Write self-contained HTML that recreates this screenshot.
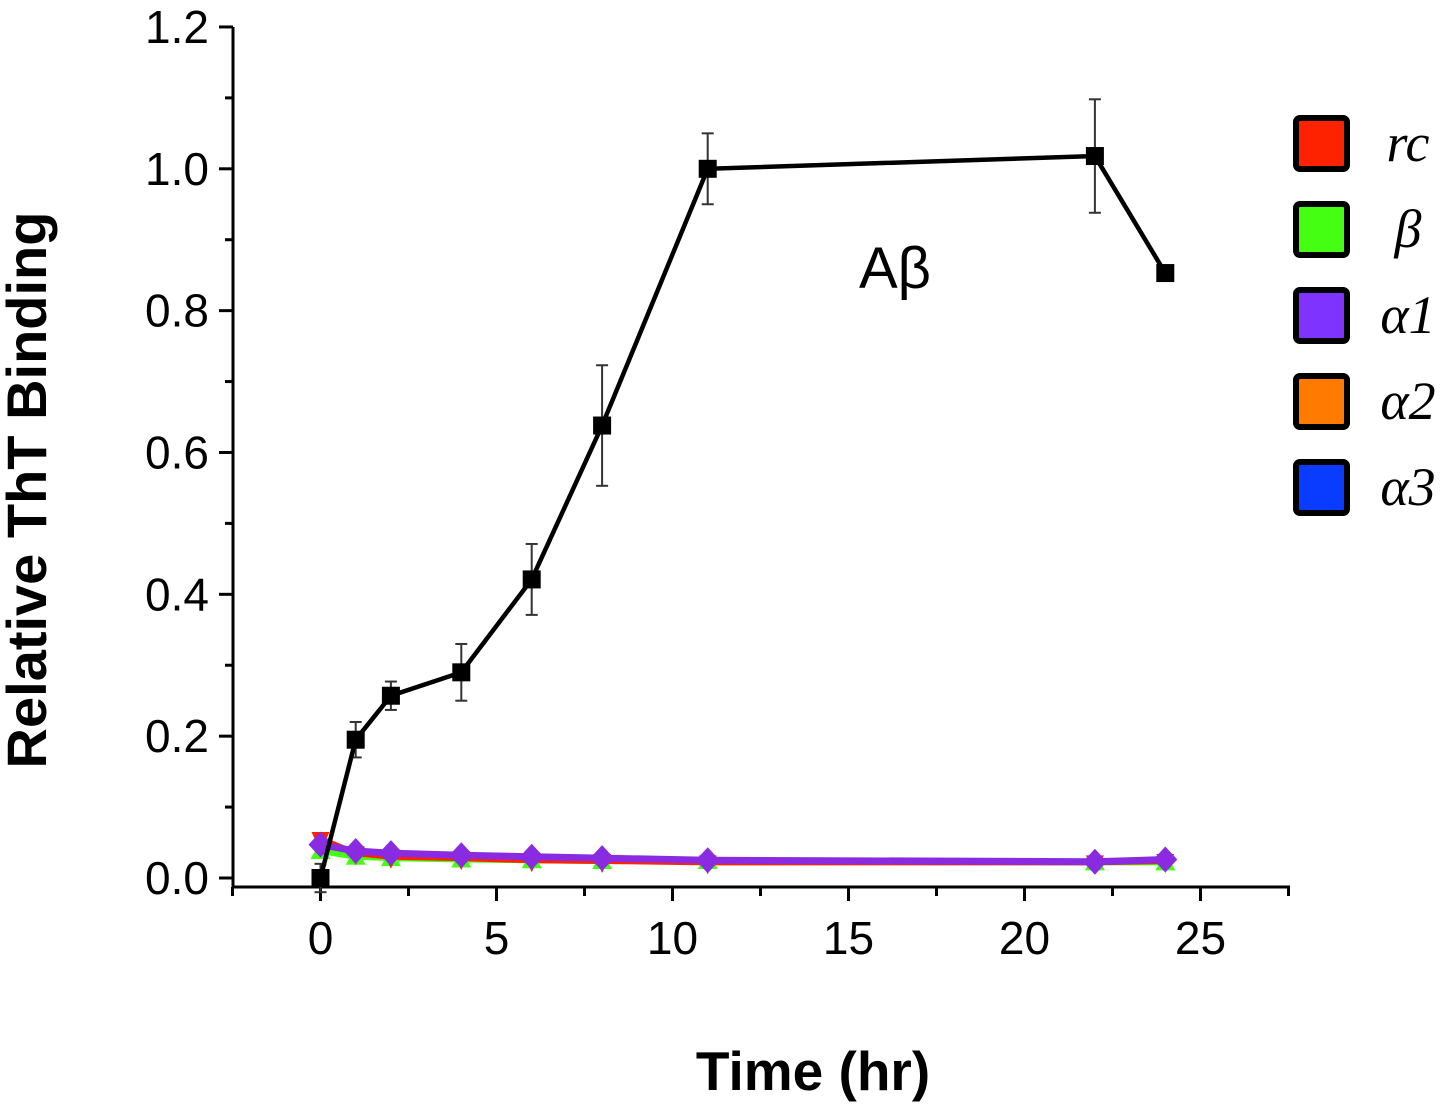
<!DOCTYPE html>
<html><head><meta charset="utf-8"><style>
html,body{margin:0;padding:0;background:#fff;}
svg{display:block;}
</style></head><body>
<svg id="chart" width="1445" height="1107" viewBox="0 0 1445 1107" xmlns="http://www.w3.org/2000/svg" font-family="Liberation Sans, sans-serif">
<g id="axes"></g>
<g id="series"></g>
<text transform="translate(46,490) rotate(-90)" text-anchor="middle" font-size="56" font-weight="bold">Relative ThT Binding</text>
<text x="813" y="1090" text-anchor="middle" font-size="55" font-weight="bold">Time (hr)</text>
<text x="895" y="288" text-anchor="middle" font-size="58">Aβ</text>
<g id="legend"></g>
</svg>
<script>
const abTimes=[0,1,2,4,6,8,11,22,24];
const abValues=[0,0.195,0.257,0.29,0.421,0.638,1.0,1.018,0.853];
const abErrors=[0.02,0.025,0.02,0.04,0.05,0.085,0.05,0.08,0.01];
const ctrlTimes=[0,1,2,4,6,8,11,22,24];
const rcValues=[0.055,0.035,0.03,0.028,0.025,0.024,0.022,0.022,0.024];
const betaValues=[0.038,0.03,0.028,0.026,0.025,0.024,0.024,0.022,0.022];
const a1Values=[0.047,0.038,0.035,0.032,0.03,0.028,0.025,0.023,0.026];
const xTicks=[0,5,10,15,20,25];
const yTicks=[0.0,0.2,0.4,0.6,0.8,1.0,1.2];
const legendLabels=["rc","β","α1","α2","α3"];
const legendColors=["#ff2200","#44ff11","#7f33ff","#ff7a00","#0a3cff"];

const NS="http://www.w3.org/2000/svg";
const X=v=>320.5+v*35.2;
const Y=v=>878-v*709.2;
function mk(tag,attrs,parent){const e=document.createElementNS(NS,tag);for(const k in attrs)e.setAttribute(k,attrs[k]);parent.appendChild(e);return e;}
const axes=document.getElementById('axes');
const series=document.getElementById('series');
const legend=document.getElementById('legend');

let e=mk('line',{x1:233,y1:887,x2:1290,y2:887,stroke:'#000','stroke-width':3},axes);


e=mk('line',{x1:233,y1:27,x2:233,y2:888,stroke:'#000','stroke-width':3},axes);


for(let v=-2.5;v<=27.6;v+=2.5){
  const major=Math.abs(v%5)<1e-6;
  e=mk('line',{x1:X(v),y1:887,x2:X(v),y2:major?901:896,stroke:'#000','stroke-width':3},axes);
  
  
}
xTicks.forEach(t=>{
  e=mk('text',{x:X(t),y:954,'text-anchor':'middle','font-size':46},axes);
  e.textContent=String(t);
  
  
});
for(let i=0;i<=12;i++){
  const v=i*0.1;const major=i%2===0;
  e=mk('line',{x1:major?219:225,y1:Y(v),x2:233,y2:Y(v),stroke:'#000','stroke-width':3},axes);
  
  
}
yTicks.forEach(t=>{
  e=mk('text',{x:209,y:Y(t)+16,'text-anchor':'end','font-size':46},axes);
  e.textContent=t.toFixed(1);
  
  
});

function line(times,vals,color,w,name){
  const p=mk('polyline',{points:times.map((t,i)=>X(t)+','+Y(vals[i])).join(' '),fill:'none',stroke:color,'stroke-width':w},series);
  
  
}
line(ctrlTimes,betaValues,'#44ff11',6,'beta-line');
line(ctrlTimes,rcValues,'#ff2200',6,'rc-line');
line(ctrlTimes,a1Values,'#8a2be2',7,'alpha1-line');
ctrlTimes.forEach((t,i)=>{
  let m=mk('polygon',{points:`${X(t)},${Y(betaValues[i])-10} ${X(t)+10},${Y(betaValues[i])+8} ${X(t)-10},${Y(betaValues[i])+8}`,fill:'#44ff11'},series);
  
  
  m=mk('polygon',{points:`${X(t)-9},${Y(rcValues[i])-7} ${X(t)+9},${Y(rcValues[i])-7} ${X(t)},${Y(rcValues[i])+12}`,fill:'#ff2200'},series);
  
  
  const cx=X(t),cy=Y(a1Values[i]);
  m=mk('polygon',{points:`${cx},${cy-13} ${cx+12},${cy} ${cx},${cy+13} ${cx-12},${cy}`,fill:'#8a2be2'},series);
  
  
});

abTimes.forEach((t,i)=>{
  const cx=X(t),y1=Y(abValues[i]+abErrors[i]),y2=Y(abValues[i]-abErrors[i]);
  const g=mk('g',{stroke:'#333','stroke-width':2},series);
  
  
  mk('line',{x1:cx,y1:y1,x2:cx,y2:y2},g);
  mk('line',{x1:cx-6,y1:y1,x2:cx+6,y2:y1},g);
  mk('line',{x1:cx-6,y1:y2,x2:cx+6,y2:y2},g);
});
line(abTimes,abValues,'#000',4.5,'abeta-line');
abTimes.forEach((t,i)=>{
  const m=mk('rect',{x:X(t)-9,y:Y(abValues[i])-9,width:18,height:18,fill:'#000'},series);
  
  
});

legendLabels.forEach((lab,i)=>{
  const y=115+i*86;
  const g=mk('g',{},legend);
  
  
  mk('rect',{x:1296,y:y+3,width:51,height:51,rx:4,fill:legendColors[i],stroke:'#000','stroke-width':6},g);
  const tx=mk('text',{x:1408,y:y+46,'text-anchor':'middle','font-size':54,'font-style':'italic','font-family':'Liberation Serif, serif'},g);
  tx.textContent=lab;
});
</script>
</body></html>
